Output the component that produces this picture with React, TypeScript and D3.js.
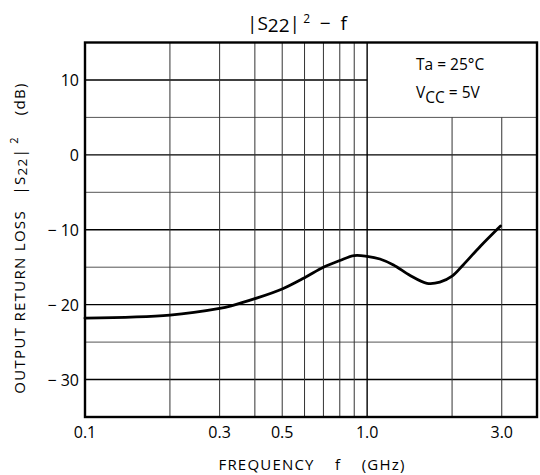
import React, { useEffect, useRef } from 'react';
import * as d3 from 'd3';

const freq = [0.1, 0.2, 0.3, 0.33, 0.4, 0.5, 0.6, 0.7, 0.8, 0.9, 1.0, 1.11, 1.24, 1.42, 1.63, 1.81, 2.0, 2.19, 2.52, 2.97];
const s22 = [-21.8, -21.4, -20.5, -20.15, -19.2, -17.9, -16.4, -15.0, -14.1, -13.45, -13.55, -13.9, -14.7, -16.1, -17.15, -17.0, -16.2, -14.7, -12.2, -9.5];

const xTickValues = [0.1, 0.3, 0.5, 1.0, 3.0];
const xTickLabels = ['0.1', '0.3', '0.5', '1.0', '3.0'];
const yTickValues = [10, 0, -10, -20, -30];
const yTickLabels = ['10', '0', '\u2212 10', '\u2212 20', '\u2212 30'];
const xGrid = [0.2, 0.3, 0.4, 0.5, 0.6, 0.7, 0.8, 0.9, 1.0, 2.0, 3.0];
const yGrid = [10, 5, 0, -5, -10, -15, -20, -25, -30];

const FONT = '"Open Sans", "DejaVu Sans", sans-serif';

const App: React.FC = () => {
  const svgRef = useRef<SVGSVGElement | null>(null);

  useEffect(() => {
    const width = 540;
    const height = 475;
    const margin = { top: 42.5, right: 3, bottom: 58, left: 85 };

    const svg = d3.select(svgRef.current);
    svg.selectAll('*').remove();
    svg.attr('width', width).attr('height', height);

    const x = d3.scaleLog().domain([0.1, 4]).range([margin.left, width - margin.right]);
    const y = d3.scaleLinear().domain([-35, 15]).range([height - margin.bottom, margin.top]);

    const data = freq.map((f, i) => ({ f, v: s22[i] }));

    // grid, the legend box blanks the top right corner
    const grid = svg.append('g');
    yGrid.forEach((v) => {
      const major = v % 10 === 0;
      grid
        .append('line')
        .attr('x1', x(0.1))
        .attr('x2', v > 5 ? x(1.0) : x(4))
        .attr('y1', y(v))
        .attr('y2', y(v))
        .attr('stroke', major ? '#000' : '#555')
        .attr('stroke-width', major ? 1.4 : 1);
    });
    xGrid.forEach((f) => {
      grid
        .append('line')
        .attr('x1', x(f))
        .attr('x2', x(f))
        .attr('y1', y(-35))
        .attr('y2', f > 1 ? y(5) : y(15))
        .attr('stroke', f === 1 ? '#000' : '#333')
        .attr('stroke-width', f === 1 ? 1.4 : 1);
    });

    // curve
    const line = d3
      .line<{ f: number; v: number }>()
      .x((d) => x(d.f))
      .y((d) => y(d.v))
      .curve(d3.curveCatmullRom.alpha(0.5));
    svg
      .append('path')
      .datum(data)
      .attr('fill', 'none')
      .attr('stroke', '#000')
      .attr('stroke-width', 2.8)
      .attr('stroke-linecap', 'round')
      .attr('d', line);

    // frame
    svg
      .append('rect')
      .attr('x', x(0.1))
      .attr('y', y(15))
      .attr('width', x(4) - x(0.1))
      .attr('height', y(-35) - y(15))
      .attr('fill', 'none')
      .attr('stroke', '#000')
      .attr('stroke-width', 2.4);

    // x tick labels
    xTickValues.forEach((f, i) => {
      svg
        .append('text')
        .attr('x', x(f))
        .attr('y', 438)
        .attr('text-anchor', 'middle')
        .attr('font-family', FONT)
        .attr('font-size', 16)
        .text(xTickLabels[i]);
    });

    // y tick labels
    yTickValues.forEach((v, i) => {
      svg
        .append('text')
        .attr('x', 79)
        .attr('y', y(v) + 6)
        .attr('text-anchor', 'end')
        .attr('font-family', FONT)
        .attr('font-size', 16)
        .text(yTickLabels[i]);
    });

    // x label
    svg
      .append('text')
      .attr('x', 312)
      .attr('y', 470)
      .attr('text-anchor', 'middle')
      .attr('font-family', FONT)
      .attr('font-size', 15)
      .attr('letter-spacing', 1.2)
      .style('white-space', 'pre')
      .text('FREQUENCY    f    (GHz)');

    // y label
    const yl = svg
      .append('text')
      .attr('transform', 'translate(25, 238) rotate(-90)')
      .attr('text-anchor', 'middle')
      .attr('font-family', FONT)
      .attr('font-size', 15)
      .attr('letter-spacing', 1.3)
      .style('white-space', 'pre');
    yl.append('tspan').text('OUTPUT RETURN LOSS   |S');
    yl.append('tspan').attr('font-size', 13.5).attr('dy', 2).text('22');
    yl.append('tspan').attr('dy', -2).text('|');
    yl.append('tspan').attr('font-size', 11).attr('dy', -7).text(' 2');
    yl.append('tspan').attr('dy', 7).text('    (dB)');

    // title
    const t = svg
      .append('text')
      .attr('x', 297)
      .attr('y', 30)
      .attr('text-anchor', 'middle')
      .attr('font-family', FONT)
      .attr('font-size', 19)
      .style('white-space', 'pre');
    t.append('tspan').text('|S');
    t.append('tspan').attr('dy', 2).text('22');
    t.append('tspan').attr('dy', -2).text('|');
    t.append('tspan').attr('font-size', 12).attr('dy', -7).text(' 2');
    t.append('tspan').attr('dy', 7).text('  \u2212  f');

    // conditions
    svg
      .append('text')
      .attr('x', 416)
      .attr('y', 70)
      .attr('font-family', FONT)
      .attr('font-size', 15.5)
      .text('Ta = 25\u00b0C');
    const vcc = svg
      .append('text')
      .attr('x', 416)
      .attr('y', 98)
      .attr('font-family', FONT)
      .attr('font-size', 15.5);
    vcc.append('tspan').text('V');
    vcc.append('tspan').attr('dy', 5).text('CC');
    vcc.append('tspan').attr('dy', -5).text(' = 5V');
  }, []);

  return <svg ref={svgRef} style={{ position: 'absolute', left: 0, top: 0, background: '#fff' }}></svg>;
};

export default App;
